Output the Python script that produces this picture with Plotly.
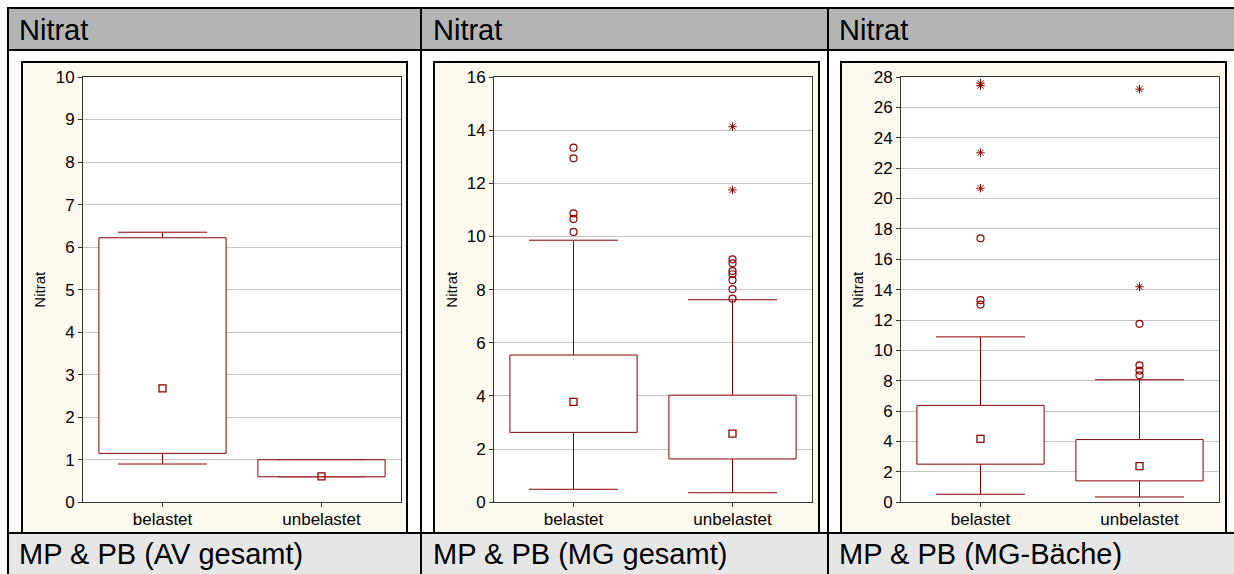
import plotly.graph_objects as go

# ---------------- data ----------------
categories = ["belastet", "unbelastet"]
header_titles = ["Nitrat", "Nitrat", "Nitrat"]
footer_titles = ["MP & PB (AV gesamt)", "MP & PB (MG gesamt)", "MP & PB (MG-Bäche)"]
y_title = "Nitrat"

# MP & PB (AV gesamt)
av_whisker_low = [0.90, 0.60]
av_q1 = [1.15, 0.60]
av_median = [2.68, 0.61]
av_q3 = [6.22, 1.00]
av_whisker_high = [6.35, 1.00]
av_outliers = [[], []]
av_extremes = [[], []]

# MP & PB (MG gesamt)
mg_whisker_low = [0.49, 0.36]
mg_q1 = [2.63, 1.63]
mg_median = [3.78, 2.58]
mg_q3 = [5.54, 4.03]
mg_whisker_high = [9.86, 7.62]
mg_outliers = [[10.17, 10.66, 10.87, 12.94, 13.34],
               [7.66, 8.02, 8.36, 8.58, 8.70, 8.99, 9.14]]
mg_extremes = [[], [11.75, 14.13]]

# MP & PB (MG-Bäche)
mb_whisker_low = [0.53, 0.35]
mb_q1 = [2.51, 1.41]
mb_median = [4.18, 2.38]
mb_q3 = [6.38, 4.13]
mb_whisker_high = [10.89, 8.07]
mb_outliers = [[13.02, 13.31, 17.38], [8.36, 8.67, 9.02, 11.75]]
mb_extremes = [[20.68, 23.01, 27.43, 27.59], [14.19, 27.20]]

y_max = [10, 16, 28]
y_step = [1, 2, 2]

panels = [
    dict(wlo=av_whisker_low, q1=av_q1, med=av_median, q3=av_q3, whi=av_whisker_high,
         out=av_outliers, ext=av_extremes),
    dict(wlo=mg_whisker_low, q1=mg_q1, med=mg_median, q3=mg_q3, whi=mg_whisker_high,
         out=mg_outliers, ext=mg_extremes),
    dict(wlo=mb_whisker_low, q1=mb_q1, med=mb_median, q3=mb_q3, whi=mb_whisker_high,
         out=mb_outliers, ext=mb_extremes),
]

# ---------------- page geometry (pixels) ----------------
W, H = 1234, 574
FONT = "Liberation Sans, Arial, sans-serif"
RED = "#8B0000"
AXIS = "#333333"
GRID = "#c4c4c4"
CREAM = "#FFFAF0"

plot_x = [(83, 401), (494, 812), (901, 1219)]
plot_y = (77, 502.3)
cream_x = [(22, 407), (434, 819), (841, 1226)]
cream_y = (62, 533)
col_left = [8, 421, 828]
ytitle_x = [40, 452, 858]
text_x = [17, 431, 837]

BOX_HALF = 0.4
CAP_HALF = 0.28


def px(x):
    return x / W


def py(y):
    return 1 - y / H


fig = go.Figure()

for k, p in enumerate(panels):
    xa = "x" if k == 0 else f"x{k + 1}"
    ya = "y" if k == 0 else f"y{k + 1}"
    xs = list(range(len(categories)))

    # whiskers with end caps
    wx, wy = [], []
    for i in xs:
        wx += [i, i, None, i - CAP_HALF, i + CAP_HALF, None,
               i, i, None, i - CAP_HALF, i + CAP_HALF, None]
        wy += [p["q3"][i], p["whi"][i], None, p["whi"][i], p["whi"][i], None,
               p["q1"][i], p["wlo"][i], None, p["wlo"][i], p["wlo"][i], None]
    fig.add_trace(go.Scatter(x=wx, y=wy, xaxis=xa, yaxis=ya, mode="lines",
                             line=dict(color=RED, width=1), hoverinfo="skip",
                             showlegend=False))

    # 25%-75% boxes
    for i in xs:
        fig.add_trace(go.Scatter(
            x=[i - BOX_HALF, i + BOX_HALF, i + BOX_HALF, i - BOX_HALF, i - BOX_HALF],
            y=[p["q1"][i], p["q1"][i], p["q3"][i], p["q3"][i], p["q1"][i]],
            xaxis=xa, yaxis=ya, mode="lines", fill="toself", fillcolor="white",
            line=dict(color=RED, width=1), hoverinfo="skip", showlegend=False))

    # medians
    fig.add_trace(go.Scatter(x=xs, y=p["med"], xaxis=xa, yaxis=ya, mode="markers",
                             marker=dict(symbol="square-open", size=7, color=RED,
                                         line=dict(width=1.3)),
                             showlegend=False))

    # outliers and extremes
    ox, oy, ex, ey = [], [], [], []
    for i in xs:
        ox += [i] * len(p["out"][i])
        oy += p["out"][i]
        ex += [i] * len(p["ext"][i])
        ey += p["ext"][i]
    fig.add_trace(go.Scatter(x=ox, y=oy, xaxis=xa, yaxis=ya, mode="markers",
                             marker=dict(symbol="circle-open", size=7, color=RED,
                                         line=dict(width=1.2)),
                             showlegend=False))
    fig.add_trace(go.Scatter(x=ex, y=ey, xaxis=xa, yaxis=ya, mode="markers",
                             marker=dict(symbol="asterisk-open", size=7, color=RED,
                                         line=dict(width=1, color=RED)),
                             showlegend=False))

layout = dict(
    width=W, height=H,
    margin=dict(l=0, r=0, t=0, b=0, pad=0, autoexpand=False),
    paper_bgcolor="white", plot_bgcolor="white",
    font=dict(family=FONT, color="black"),
    showlegend=False,
)

shapes = []
annotations = []

# header and footer bands with table rules
shapes.append(dict(type="rect", xref="paper", yref="paper", x0=px(8), x1=px(W + 5),
                   y0=py(50), y1=py(8), fillcolor="#b4b4b4",
                   line=dict(color="black", width=2), layer="below"))
shapes.append(dict(type="rect", xref="paper", yref="paper", x0=px(8), x1=px(W + 5),
                   y0=py(H + 5), y1=py(533), fillcolor="#e6e6e6",
                   line=dict(color="black", width=2), layer="below"))

for k in range(3):
    xa_key = "xaxis" if k == 0 else f"xaxis{k + 1}"
    ya_key = "yaxis" if k == 0 else f"yaxis{k + 1}"
    x_anchor = "x" if k == 0 else f"x{k + 1}"
    y_anchor = "y" if k == 0 else f"y{k + 1}"
    dom_x = [px(plot_x[k][0]), px(plot_x[k][1])]
    dom_y = [py(plot_y[1]), py(plot_y[0])]

    layout[xa_key] = dict(
        domain=dom_x, anchor=y_anchor, range=[-0.5, 1.5],
        tickmode="array", tickvals=[0, 1], ticktext=categories,
        ticks="outside", ticklen=4, tickcolor=AXIS, ticklabelstandoff=-3,
        showline=True, linecolor=AXIS, linewidth=1, mirror=True,
        showgrid=False, zeroline=False, fixedrange=True,
        tickfont=dict(size=17, family=FONT, color="black"),
    )
    layout[ya_key] = dict(
        domain=dom_y, anchor=x_anchor, range=[0, y_max[k]],
        tickmode="linear", tick0=0, dtick=y_step[k],
        ticks="outside", ticklen=4, tickcolor=AXIS,
        showline=True, linecolor=AXIS, linewidth=1, mirror=True,
        showgrid=True, gridcolor=GRID, gridwidth=1, zeroline=False, fixedrange=True,
        tickfont=dict(size=17, family=FONT, color="black"),
    )
    # inward ticks on top and right edges
    layout[f"xaxis{k + 4}"] = dict(
        domain=dom_x, anchor=y_anchor, overlaying=x_anchor, side="top",
        range=[-0.5, 1.5], tickmode="array", tickvals=[0, 1],
        ticks="inside", ticklen=4, tickcolor=AXIS, showticklabels=False,
        showline=False, showgrid=False, zeroline=False, fixedrange=True,
    )
    layout[f"yaxis{k + 4}"] = dict(
        domain=dom_y, anchor=x_anchor, overlaying=y_anchor, side="right",
        range=[0, y_max[k]], tickmode="linear", tick0=0, dtick=y_step[k],
        ticks="inside", ticklen=4, tickcolor=AXIS, showticklabels=False,
        showline=False, showgrid=False, zeroline=False, fixedrange=True,
    )

    # cream chart panel with white plotting area
    shapes.append(dict(type="rect", xref="paper", yref="paper",
                       x0=px(cream_x[k][0]), x1=px(cream_x[k][1]),
                       y0=py(cream_y[1]), y1=py(cream_y[0]),
                       fillcolor=CREAM, line=dict(color="black", width=2), layer="below"))
    shapes.append(dict(type="rect", xref="paper", yref="paper",
                       x0=dom_x[0], x1=dom_x[1], y0=dom_y[0], y1=dom_y[1],
                       fillcolor="white", line=dict(width=0), layer="below"))

    # column rule
    shapes.append(dict(type="line", xref="paper", yref="paper",
                       x0=px(col_left[k]), x1=px(col_left[k]), y0=py(H + 5), y1=py(8),
                       line=dict(color="black", width=2), layer="above"))

    annotations.append(dict(text=header_titles[k], xref="paper", yref="paper",
                            x=px(text_x[k]), y=py(30), xanchor="left", yanchor="middle",
                            showarrow=False, font=dict(size=29, family=FONT, color="black")))
    annotations.append(dict(text=footer_titles[k], xref="paper", yref="paper",
                            x=px(text_x[k]), y=py(554), xanchor="left", yanchor="middle",
                            showarrow=False, font=dict(size=29, family=FONT, color="black")))
    annotations.append(dict(text=y_title, xref="paper", yref="paper",
                            x=px(ytitle_x[k]), y=(dom_y[0] + dom_y[1]) / 2,
                            xanchor="center", yanchor="middle", textangle=-90,
                            showarrow=False, font=dict(size=15, family=FONT, color="black")))

layout["shapes"] = shapes
layout["annotations"] = annotations
fig.update_layout(**layout)

fig.write_html("out.html")
